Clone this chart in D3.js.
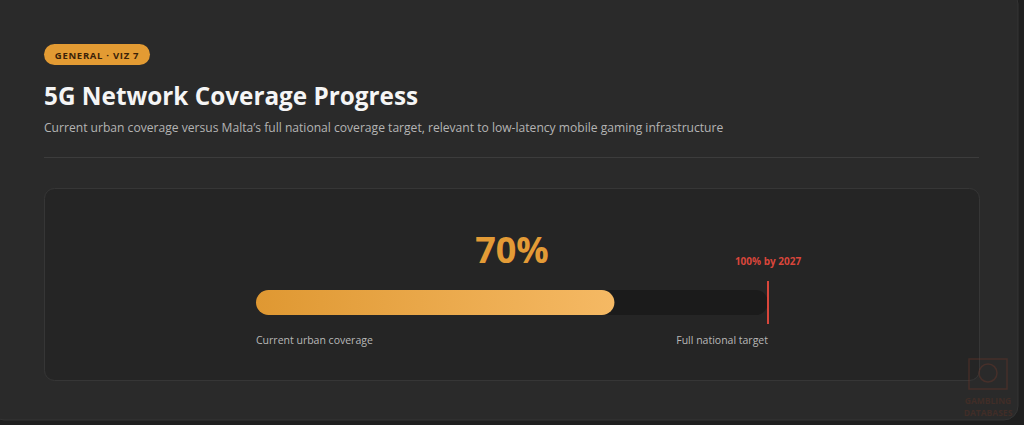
<!DOCTYPE html>
<html><head><meta charset="utf-8">
<script src="https://cdn.jsdelivr.net/npm/d3@7"></script>
<style>
html,body{margin:0;padding:0;background:#1f1f1f;}
svg{display:block;}
</style></head><body>
<svg id="c" width="1024" height="425"></svg>
<script>
const categories = ["Current urban coverage", "Full national target"];
const values = [70, 100];
const valueLabels = ["70%", "100% by 2027"];
const domainMax = 100;

const svg = d3.select("#c");
const font = "'Open Sans','Noto Sans',sans-serif";

// outer card
svg.append("rect").attr("x",-10).attr("y",-10).attr("width",1028).attr("height",430).attr("rx",14)
  .attr("fill","#2a2a2a").attr("stroke","#343434");

// badge
svg.append("rect").attr("x",44).attr("y",44).attr("width",106).attr("height",21).attr("rx",10.5).attr("fill","#e39b33");
svg.append("text").attr("x",97).attr("y",58.5).attr("text-anchor","middle")
  .attr("font-family",font).attr("font-size",9.5).attr("font-weight",700).attr("letter-spacing",0.7)
  .attr("fill","#3a2208").text("GENERAL · VIZ 7");

// title
svg.append("text").attr("x",44).attr("y",105).attr("font-family",font).attr("font-size",24.3).attr("font-weight",700)
  .attr("fill","#f5f5f5").text("5G Network Coverage Progress");
svg.append("text").attr("x",44).attr("y",132).attr("font-family",font).attr("font-size",12.1)
  .attr("fill","#b4b4b4").text("Current urban coverage versus Malta’s full national coverage target, relevant to low-latency mobile gaming infrastructure");
svg.append("line").attr("x1",44).attr("x2",979).attr("y1",157.5).attr("y2",157.5).attr("stroke","#3c3c3c");

// inner panel
svg.append("rect").attr("x",44.5).attr("y",188.5).attr("width",935).attr("height",192).attr("rx",10)
  .attr("fill","#252525").attr("stroke","#363636");

const x = d3.scaleLinear().domain([0, domainMax]).range([256, 768]);
const barY = 290, barH = 25;

const defs = svg.append("defs");
const g = defs.append("linearGradient").attr("id","fillg").attr("x1","0%").attr("x2","100%");
g.append("stop").attr("offset","0%").attr("stop-color","#df9832");
g.append("stop").attr("offset","100%").attr("stop-color","#f5b964");

// track
svg.append("rect").attr("x",x(0)).attr("y",barY).attr("width",x(domainMax)-x(0)).attr("height",barH)
  .attr("rx",barH/2).attr("fill","#1b1b1b");
// fill
svg.append("rect").attr("x",x(0)).attr("y",barY).attr("width",x(values[0])-x(0)).attr("height",barH)
  .attr("rx",barH/2).attr("fill","url(#fillg)");

// target line
svg.append("line").attr("x1",x(values[1])).attr("x2",x(values[1])).attr("y1",281).attr("y2",324)
  .attr("stroke","#d9463b").attr("stroke-width",2);
svg.append("text").attr("x",x(values[1])).attr("y",265).attr("text-anchor","middle")
  .attr("font-family",font).attr("font-size",10).attr("font-weight",700).attr("fill","#d9463b").text(valueLabels[1]);

// big value
svg.append("text").attr("x",(x(0)+x(domainMax))/2).attr("y",263).attr("text-anchor","middle")
  .attr("font-family",font).attr("font-size",36).attr("font-weight",700).attr("fill","#e39b36").text(valueLabels[0]);

// labels
svg.append("text").attr("x",x(0)).attr("y",344).attr("font-family",font).attr("font-size",10.5)
  .attr("fill","#b8b8b8").text(categories[0]);
svg.append("text").attr("x",x(domainMax)).attr("y",344).attr("text-anchor","end").attr("font-family",font).attr("font-size",10.5)
  .attr("fill","#b8b8b8").text(categories[1]);

// watermark
const wm = svg.append("g").attr("opacity",0.35);
wm.append("rect").attr("x",969).attr("y",359).attr("width",38).attr("height",30).attr("fill","none").attr("stroke","#7a3a2a").attr("stroke-width",1.5);
wm.append("circle").attr("cx",988).attr("cy",373).attr("r",9).attr("fill","none").attr("stroke","#7a3a2a").attr("stroke-width",1.5);
wm.append("text").attr("x",988).attr("y",404).attr("text-anchor","middle").attr("font-family",font).attr("font-size",8.5).attr("font-weight",700).attr("fill","#6a3424").text("GAMBLING");
wm.append("text").attr("x",988).attr("y",416).attr("text-anchor","middle").attr("font-family",font).attr("font-size",8.5).attr("font-weight",700).attr("fill","#6a3424").text("DATABASES");
</script>
</body></html>
